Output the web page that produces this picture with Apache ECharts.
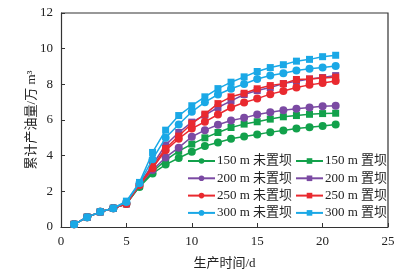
<!DOCTYPE html>
<html>
<head>
<meta charset="utf-8">
<script src="https://cdn.jsdelivr.net/npm/echarts@6/dist/echarts.min.js"></script>
<style>
html, body { margin: 0; padding: 0; background: #fff; }
#main { width: 409px; height: 276px; }
</style>
</head>
<body>
<div id="main"></div>
<script>
// 生产时间 (d)
var days = [1, 2, 3, 4, 5, 6, 7, 8, 9, 10, 11, 12, 13, 14, 15, 16, 17, 18, 19, 20, 21];

// 累计产油量 (万 m3)
var d150no  = [0.15, 0.55, 0.85, 1.05, 1.3, 2.25, 3.0, 3.5, 3.87, 4.22, 4.54, 4.74, 4.95, 5.08, 5.19, 5.32, 5.41, 5.52, 5.6, 5.67, 5.75];
var d150dam = [0.15, 0.55, 0.85, 1.05, 1.3, 2.3, 3.1, 3.75, 4.25, 4.65, 5.0, 5.3, 5.58, 5.77, 5.9, 6.05, 6.18, 6.25, 6.32, 6.36, 6.38];
var d200no  = [0.15, 0.55, 0.85, 1.05, 1.3, 2.35, 3.2, 3.9, 4.45, 5.06, 5.43, 5.73, 5.97, 6.12, 6.31, 6.44, 6.55, 6.63, 6.7, 6.77, 6.8];
var d200dam = [0.15, 0.55, 0.85, 1.05, 1.3, 2.4, 3.5, 4.6, 5.3, 5.88, 6.27, 6.7, 7.07, 7.43, 7.65, 7.82, 8.04, 8.17, 8.3, 8.38, 8.49];
var d250no  = [0.15, 0.55, 0.85, 1.05, 1.3, 2.35, 3.3, 4.3, 4.95, 5.52, 5.9, 6.31, 6.7, 6.98, 7.2, 7.45, 7.63, 7.82, 7.97, 8.08, 8.19];
var d250dam = [0.15, 0.55, 0.85, 1.05, 1.3, 2.4, 3.4, 4.4, 5.1, 5.8, 6.33, 6.92, 7.3, 7.5, 7.75, 7.93, 8.04, 8.27, 8.3, 8.36, 8.4];
var d300no  = [0.15, 0.55, 0.85, 1.05, 1.4, 2.45, 3.8, 5.0, 5.75, 6.46, 7.0, 7.43, 7.75, 8.02, 8.3, 8.49, 8.62, 8.77, 8.87, 8.94, 9.03];
var d300dam = [0.15, 0.55, 0.85, 1.05, 1.45, 2.5, 4.18, 5.43, 6.25, 6.8, 7.3, 7.76, 8.12, 8.42, 8.72, 8.94, 9.1, 9.3, 9.4, 9.55, 9.63];

var names = ['150 m 未置坝', '150 m 置坝', '200 m 未置坝', '200 m 置坝',
             '250 m 未置坝', '250 m 置坝', '300 m 未置坝', '300 m 置坝'];
var values = [d150no, d150dam, d200no, d200dam, d250no, d250dam, d300no, d300dam];
var colors = ['#12a14b', '#12a14b', '#7b4aa3', '#7b4aa3', '#e9292f', '#e9292f', '#1aa8e6', '#1aa8e6'];

var serif = '"Liberation Serif", "Noto Sans CJK SC", serif';

function pairs(arr) {
    return arr.map(function (v, i) { return [days[i], v]; });
}

var myChart = echarts.init(document.getElementById('main'));

var series = names.map(function (n, i) {
    return {
        name: n,
        type: 'line',
        data: pairs(values[i]),
        symbol: i % 2 === 0 ? 'circle' : 'rect',
        symbolSize: i % 2 === 0 ? 8 : 7,
        lineStyle: { width: 1.5, color: colors[i] },
        itemStyle: { color: colors[i] },
        z: 2 + i
    };
});

// 图例分两列：未置坝 / 置坝
function legendCol(list, left) {
    return {
        data: list,
        left: left,
        top: 154,
        orient: 'vertical',
        itemWidth: 27,
        itemHeight: 7,
        itemGap: 3.3,
        padding: 0,
        textStyle: { fontFamily: serif, fontSize: 13, color: '#222', lineHeight: 14, padding: [0, 0, 0, -3] }
    };
}

var option = {
    animation: false,
    grid: { left: 61, right: 21, top: 13, bottom: 49 },
    legend: [
        legendCol([names[0], names[2], names[4], names[6]], 187),
        legendCol([names[1], names[3], names[5], names[7]], 295)
    ],
    xAxis: {
        type: 'value',
        min: 0, max: 25, interval: 5,
        name: '生产时间/d',
        nameLocation: 'middle',
        nameGap: 30,
        nameMoveOverlap: false,
        nameTextStyle: { fontFamily: serif, fontSize: 13, color: '#222' },
        axisLine: { onZero: false, lineStyle: { color: '#333', width: 1.2 } },
        axisTick: { inside: true, length: 4, lineStyle: { color: '#333' } },
        axisLabel: { fontFamily: serif, fontSize: 13, color: '#222', margin: 8 },
        splitLine: { show: false }
    },
    yAxis: {
        type: 'value',
        min: 0, max: 12, interval: 2,
        name: '累计产油量/万 m³',
        nameLocation: 'middle',
        nameGap: 23,
        nameMoveOverlap: false,
        nameTextStyle: { fontFamily: serif, fontSize: 13, color: '#222' },
        axisLine: { onZero: false, show: true, lineStyle: { color: '#333', width: 1.2 } },
        axisTick: { inside: true, length: 4, lineStyle: { color: '#333' } },
        axisLabel: { fontFamily: serif, fontSize: 13, color: '#222', margin: 8 },
        splitLine: { show: false }
    },
    series: series
};

myChart.setOption(option);

// 右边框和上边框
var x0 = myChart.convertToPixel({ xAxisIndex: 0 }, 0);
var x1 = myChart.convertToPixel({ xAxisIndex: 0 }, 25);
var y0 = myChart.convertToPixel({ yAxisIndex: 0 }, 0);
var y1 = myChart.convertToPixel({ yAxisIndex: 0 }, 12);
myChart.setOption({
    graphic: [{
        type: 'polyline',
        shape: { points: [[x0, y1], [x1, y1], [x1, y0]] },
        style: { stroke: '#333', lineWidth: 1.2, fill: null },
        silent: true
    }]
});
</script>
</body>
</html>
